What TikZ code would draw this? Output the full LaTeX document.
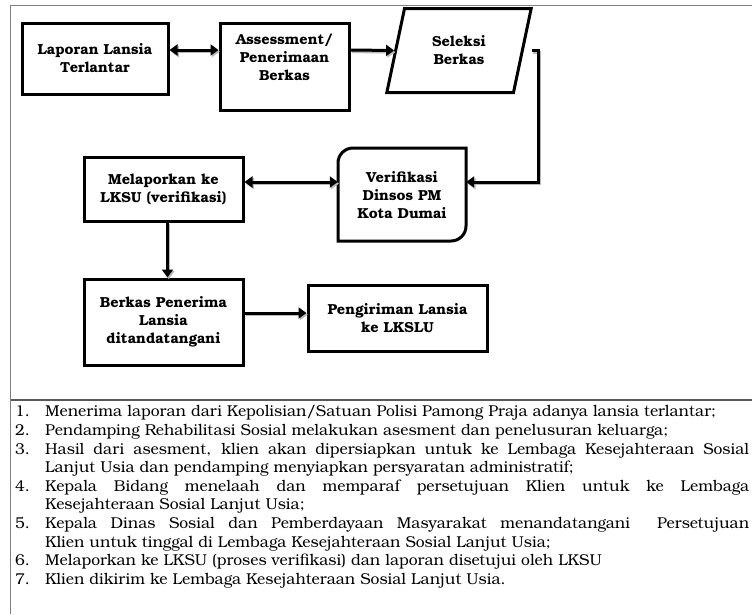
\documentclass[tikz,border=0pt]{standalone}
\usepackage{fontspec}
\setmainfont{texgyrebonum}[Extension=.otf,UprightFont=*-regular,BoldFont=*-bold,ItalicFont=*-italic,BoldItalicFont=*-bolditalic]
\usetikzlibrary{arrows.meta,shapes.geometric}
\tikzset{
  box/.style={draw, line width=3pt, inner sep=0pt, align=center,
    font=\bfseries\fontsize{14.5}{18}\selectfont},
  boxtext/.style={inner sep=0pt, align=center, font=\bfseries\fontsize{14.5}{18}\selectfont},
  conn/.style={line width=3pt,
    preaction={draw=black!28, line width=3pt, transform canvas={shift={(1.3pt,-1.6pt)}}}},
  tip/.tip={Triangle[length=8pt,width=11pt]},
  frame/.style={draw=black!50, line width=1.3pt}
}
\begin{document}
\begin{tikzpicture}[x=1pt,y=-1pt]
\useasboundingbox (0,0) rectangle (752,614);
% frame
\draw[frame] (752,5.7) -- (10.7,5.7) -- (10.7,614);
\draw[frame, draw=black!65] (10.7,400) -- (752,400);
% nodes
\node[box, minimum width=146, minimum height=71] (lap) at (95,58.5) {Laporan Lansia\\Terlantar};
\node[box, minimum width=129, minimum height=87] (asm) at (284.5,66.5) {};
\node[boxtext] (asmt) at (284.5,57) {Assessment/\\Penerimaan\\Berkas};
\node[box, trapezium, trapezium left angle=73.4, trapezium right angle=106.6,
      trapezium stretches=true, minimum width=145, minimum height=84] (sel) at (459,50.5) {Seleksi\\Berkas};
\node[minimum width=128, minimum height=93, inner sep=0pt] (ver) at (402,194.5) {};
\draw[line width=3pt] (338,241) -- (338,163) arc[start angle=180, end angle=270, radius=15]
   -- (466,148) -- (466,226) arc[start angle=0, end angle=90, radius=15] -- cycle;
\node[boxtext] (vert) at (402,195) {Verifikasi\\Dinsos PM\\Kota Dumai};
\node[box, minimum width=159, minimum height=64] (mel) at (163.5,189) {Melaporkan ke\\LKSU (verifikasi)};
\node[box, minimum width=159, minimum height=86] (ber) at (163.5,322) {Berkas Penerima\\Lansia\\ditandatangani};
\node[box, minimum width=179, minimum height=66] (pen) at (397.5,318) {Pengiriman Lansia\\ke LKSLU};
% connectors
\coordinate (ya) at (0,50);
\coordinate (c1) at (538,182);
\coordinate (yb) at (0,313);
\draw[conn, tip-tip] (lap.east |- ya) -- (asm.west |- ya);
\draw[conn, -tip] (asm.east |- ya) -- (sel.west);
\draw[conn, -tip] ([xshift=8pt]sel.east) -| (c1) -- (ver.east |- c1);
\draw[conn, tip-tip] (mel.east |- c1) -- (ver.west |- c1);
\draw[conn, -tip] ([xshift=4pt]mel.south) -- ([xshift=4pt]ber.north);
\draw[conn, -tip] (ber.east |- yb) -- (pen.west |- yb);
% list
\node[anchor=north west, text width=734pt, inner sep=0pt, align=justify,
      font=\fontsize{15.7}{18.6}\selectfont] (list) at (15,405.5) {%
\hangindent=30pt\hangafter=1\noindent\makebox[30pt][l]{1.}Menerima laporan dari Kepolisian/Satuan Polisi Pamong Praja adanya lansia terlantar;\par
\hangindent=30pt\hangafter=1\noindent\makebox[30pt][l]{2.}Pendamping Rehabilitasi Sosial melakukan asesment dan penelusuran keluarga;\par
\hangindent=30pt\hangafter=1\noindent\makebox[30pt][l]{3.}Hasil dari asesment, klien akan dipersiapkan untuk ke Lembaga Kesejahteraan Sosial\linebreak Lanjut Usia dan pendamping menyiapkan persyaratan administratif;\par
\hangindent=30pt\hangafter=1\noindent\makebox[30pt][l]{4.}Kepala Bidang menelaah dan memparaf persetujuan Klien untuk ke Lembaga\linebreak Kesejahteraan Sosial Lanjut Usia;\par
\hangindent=30pt\hangafter=1\noindent\makebox[30pt][l]{5.}Kepala Dinas Sosial dan Pemberdayaan Masyarakat menandatangani\ \ Persetujuan\linebreak Klien untuk tinggal di Lembaga Kesejahteraan Sosial Lanjut Usia;\par
\hangindent=30pt\hangafter=1\noindent\makebox[30pt][l]{6.}Melaporkan ke LKSU (proses verifikasi) dan laporan disetujui oleh LKSU\par
\hangindent=30pt\hangafter=1\noindent\makebox[30pt][l]{7.}Klien dikirim ke Lembaga Kesejahteraan Sosial Lanjut Usia.\par};
\end{tikzpicture}
\end{document}
